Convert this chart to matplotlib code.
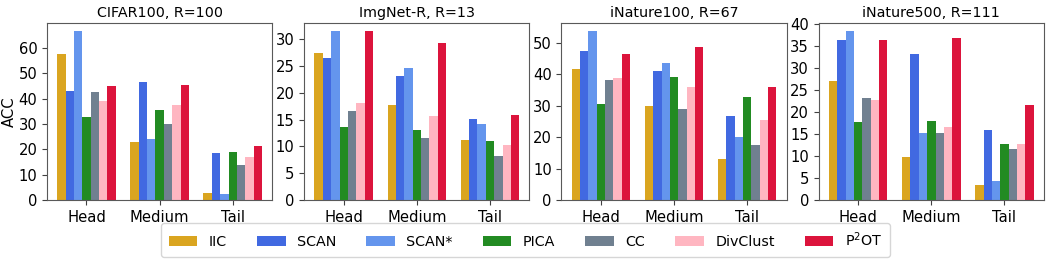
import numpy as np
import matplotlib
matplotlib.use("Agg")
import matplotlib.pyplot as plt
from matplotlib.ticker import MultipleLocator

groups = ["Head", "Medium", "Tail"]
methods = ["IIC", "SCAN", "SCAN*", "PICA", "CC", "DivClust", "P$^2$OT"]
colors = ["goldenrod", "royalblue", "cornflowerblue", "forestgreen",
          "slategray", "lightpink", "crimson"]

titles = ["CIFAR100, R=100", "ImgNet-R, R=13", "iNature100, R=67", "iNature500, R=111"]
tick_steps = [10, 5, 10, 5]

# rows = methods, cols = Head / Medium / Tail
cifar100 = [
    [57.6, 22.9, 2.8],
    [43.0, 46.7, 18.7],
    [66.5, 24.1, 2.2],
    [32.7, 35.6, 19.0],
    [42.6, 30.0, 13.7],
    [39.2, 37.5, 16.8],
    [45.0, 45.5, 21.4],
]
imgnet_r = [
    [27.4, 17.7, 11.2],
    [26.5, 23.1, 15.2],
    [31.5, 24.7, 14.1],
    [13.6, 13.1, 11.1],
    [16.7, 11.6, 8.2],
    [18.2, 15.6, 10.3],
    [31.5, 29.4, 15.8],
]
inature100 = [
    [41.7, 30.0, 13.1],
    [47.6, 41.0, 26.8],
    [53.7, 43.5, 20.1],
    [30.5, 39.3, 32.9],
    [38.1, 28.9, 17.5],
    [38.8, 35.9, 25.6],
    [46.6, 48.6, 35.9],
]
inature500 = [
    [27.1, 9.8, 3.5],
    [36.3, 33.1, 15.9],
    [38.3, 15.3, 4.4],
    [17.6, 17.9, 12.7],
    [23.2, 15.1, 11.5],
    [22.6, 16.5, 12.7],
    [36.3, 36.8, 21.5],
]

FS = 10.3
TICK_FS = 10.6


def draw_panel(ax, data, title, step):
    x = np.arange(len(groups))
    n = len(methods)
    width = 0.8 / n
    for i, (name, vals) in enumerate(zip(methods, data)):
        ax.bar(x - 0.4 + width * (i + 0.5), vals, width, color=colors[i], label=name)
    ax.set_xticks(x)
    ax.set_xticklabels(groups, fontsize=TICK_FS)
    ax.yaxis.set_major_locator(MultipleLocator(step))
    ax.tick_params(axis="y", labelsize=TICK_FS)
    ax.tick_params(colors="0.25", labelcolor="black")
    for sp in ax.spines.values():
        sp.set_color("0.35")
    ax.set_title(title, fontsize=FS, pad=4)


def main():
    fig, axes = plt.subplots(1, 4, figsize=(10.51, 2.61), dpi=100)
    fig.subplots_adjust(left=0.0447, right=0.9933, top=0.912, bottom=0.234, wspace=0.142)
    for ax, data, title, step in zip(axes, [cifar100, imgnet_r, inature100, inature500],
                                     titles, tick_steps):
        draw_panel(ax, data, title, step)
    axes[0].set_ylabel("ACC", fontsize=TICK_FS, labelpad=1)

    handles, labels = axes[0].get_legend_handles_labels()
    fig.legend(handles, labels, loc="center", bbox_to_anchor=(0.5, 0.08), ncol=7,
               fontsize=FS, handlelength=2.0, columnspacing=2.1, borderpad=0.55)
    fig.savefig("out.png", dpi=100)
    plt.close(fig)


if __name__ == "__main__":
    main()
